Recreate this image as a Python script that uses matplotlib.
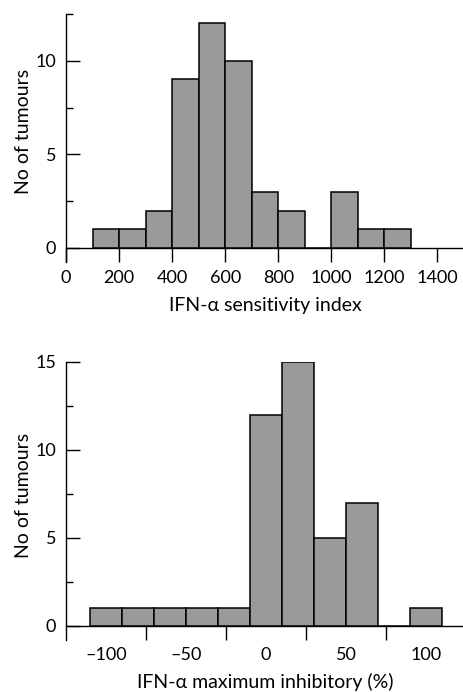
import matplotlib
matplotlib.use("Agg")
import matplotlib.pyplot as plt
import numpy as np

plt.rcParams['font.family'] = ['Lato', 'DejaVu Sans']
plt.rcParams['font.size'] = 13

# top panel: IFN-a sensitivity index, bins of width 100
sens_edges = [100, 200, 300, 400, 500, 600, 700, 800, 900, 1000, 1100, 1200]
sens_counts = [1, 1, 2, 9, 12, 10, 3, 2, 0, 3, 1, 1]
sens_ticks = [0, 200, 400, 600, 800, 1000, 1200, 1400]

# bottom panel: maximum inhibitory (%), bins of width 20
inhib_centers = [-100, -80, -60, -40, -20, 0, 20, 40, 60, 80, 100]
inhib_counts = [1, 1, 1, 1, 1, 12, 15, 5, 7, 0, 1]
inhib_labels = [-100, -50, 0, 50, 100]
inhib_marks = [-75, -25, 25, 75]

BAR = '#9a9a9a'
TICK = 10  # pt, ~14 px

fig = plt.figure(figsize=(4.64, 6.92), dpi=100)


def style(ax):
    ax.spines['top'].set_visible(False)
    ax.spines['right'].set_visible(False)
    ax.spines['bottom'].set_position(('data', 0))
    for s in ('left', 'bottom'):
        ax.spines[s].set_linewidth(1.0)
    ax.tick_params(axis='y', which='major', direction='in', length=TICK, width=1.0, pad=7)
    ax.tick_params(axis='y', which='minor', direction='in', length=TICK / 2, width=1.0)


# ---- top
ax1 = fig.add_axes([0.1422, 0.6214, 0.8578, 0.3584])
ax1.bar(sens_edges, sens_counts, width=100, align='edge', color=BAR,
        edgecolor='black', linewidth=1.1, zorder=3)
ax1.set_xlim(0, 1500)
ax1.set_ylim(-0.75, 12.5)
style(ax1)
ax1.set_xticks(sens_ticks)
ax1.tick_params(axis='x', direction='out', length=TICK, width=1.0, pad=6)
ax1.set_yticks([0, 5, 10])
ax1.set_yticks([2.5, 7.5, 12.5], minor=True)
ax1.set_xlabel('IFN-α sensitivity index', fontsize=14, labelpad=8)
ax1.set_ylabel('No of tumours', fontsize=14)
ax1.yaxis.set_label_coords(-0.085, 0.528)

# ---- bottom
ax2 = fig.add_axes([0.1422, 0.0751, 0.8578, 0.4022])
ax2.bar(inhib_centers, inhib_counts, width=20, align='center', color=BAR,
        edgecolor='black', linewidth=1.1, zorder=3)
ax2.set_xlim(-125, 123.75)
ax2.set_ylim(-0.8, 15)
style(ax2)
ax2.set_xticks(inhib_labels)
ax2.set_xticklabels(['\u2013100', '\u201350', '0', '50', '100'])
ax2.set_xticks(inhib_marks, minor=True)
ax2.tick_params(axis='x', which='major', length=TICK, color='none', pad=5)
ax2.tick_params(axis='x', which='minor', direction='out', length=TICK, width=1.0)
ax2.set_yticks([0, 5, 10, 15])
ax2.set_yticks([2.5, 7.5, 12.5], minor=True)
ax2.set_xlabel('IFN-α maximum inhibitory (%)', fontsize=14, labelpad=7)
ax2.set_ylabel('No of tumours', fontsize=14)
ax2.yaxis.set_label_coords(-0.085, 0.521)

fig.savefig('out.png', dpi=100)
